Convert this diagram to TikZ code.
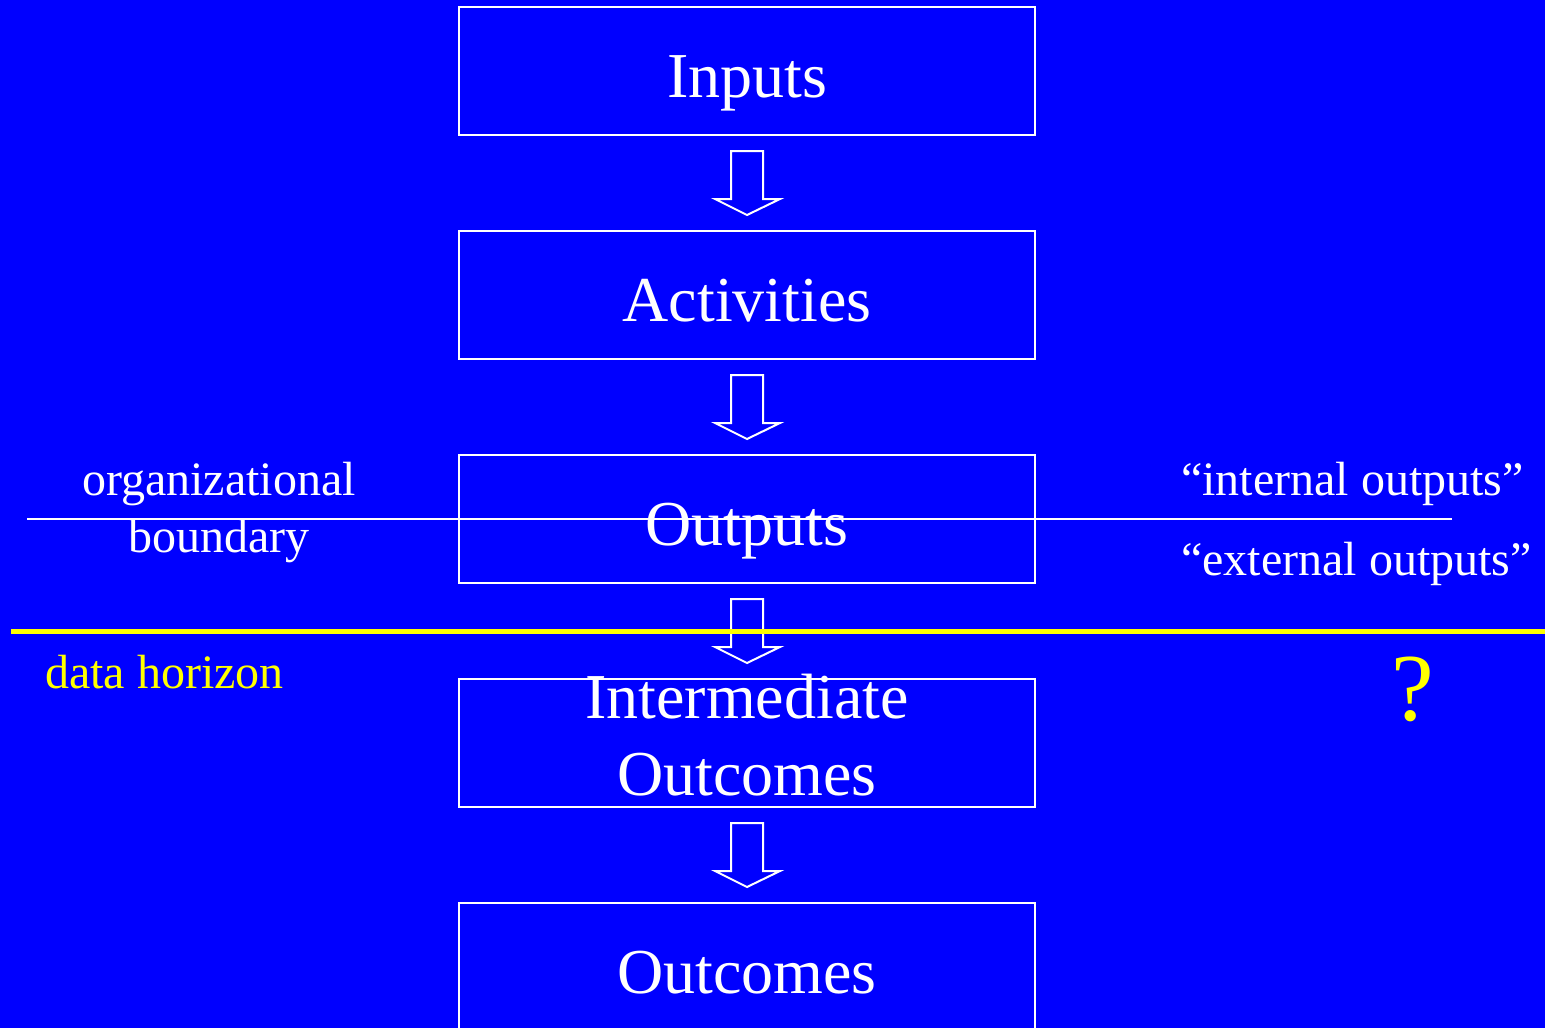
\documentclass[tikz,border=0pt]{standalone}
\usepackage{fontspec}
\setmainfont{Liberation Serif}
\usetikzlibrary{positioning,calc}
\definecolor{slideblue}{RGB}{0,0,255}
\definecolor{horizon}{RGB}{255,255,0}

\begin{document}
\begin{tikzpicture}[
  x=1pt,y=-1pt,
  node distance=96pt,
  stage/.style={draw=white,line width=2pt,minimum width=576pt,minimum height=128pt,
                inner sep=0pt,outer sep=0pt,text=white,align=center,
                font=\fontsize{64}{77}\selectfont},
  oneline/.style={stage,text height=52pt,text depth=0pt},
  note/.style={text=white,inner sep=0pt,font=\fontsize{48}{57}\selectfont},
  blockarr/.style={draw=white,line width=2pt}]
\fill[slideblue] (0,0) rectangle (1545,1028);
\useasboundingbox (0,0) rectangle (1545,1028);
\node[oneline] (inputs) at (747,71) {Inputs};
\node[oneline,below=of inputs] (activities) {Activities};
\node[oneline,below=of activities] (outputs) {Outputs};
\node[stage,below=of outputs,inner ysep=-6pt] (interm) {Intermediate\\Outcomes\rule[-16pt]{0pt}{16pt}};
\node[oneline,below=of interm] (outcomes) {Outcomes};
\foreach \a/\b in {inputs/activities,activities/outputs,outputs/interm,interm/outcomes}
  \draw[blockarr] ($(\a.south)+(-16,16)$) -- ++(0,48) -- ++(-16,0)
    -- ($(\b.north)+(0,-16)$) -- ++(33,-16) -- ++(-17,0) -- ++(0,-48) -- cycle;
\node[note,align=center] (orgbound) at (219,513) {organizational\\boundary};
\node[note,anchor=base west] (internal) at (1181,495) {“internal outputs”};
\node[note,anchor=base west] (external) at (1181,575) {“external outputs”};
\node[note,text=horizon,anchor=base west] (horizonlbl) at (45,688) {data horizon};
\node[inner sep=0pt,text=horizon,font=\fontsize{96}{96}\selectfont,anchor=base west] (query) at (1391,720) {?};
\draw[white,line width=2pt] (27,519) -- (1452,519);
\draw[horizon,line width=5pt] (11,631) -- (1545,631);
\end{tikzpicture}
\end{document}
